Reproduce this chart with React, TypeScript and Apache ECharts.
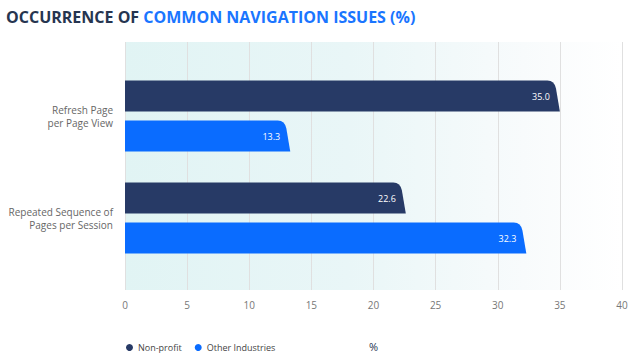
import React, { useEffect, useRef } from "react";
import * as echarts from "echarts";

const categories = ["Refresh Page\nper Page View", "Repeated Sequence of\nPages per Session"];
const nonProfit = [35.0, 22.6];
const otherIndustries = [13.3, 32.3];
const xTicks = { min: 0, max: 40, interval: 5 };
const seriesNames = ["Non-profit", "Other Industries"];
const seriesColors = ["#273a66", "#0a6cff"];

function makeRender(offset: number) {
  return (params: any, api: any) => {
    const cat = api.value(1);
    const val = api.value(0);
    const start = api.coord([0, cat]);
    const end = api.coord([val, cat]);
    const h = 31;
    const cy = start[1] + offset;
    const y0 = cy - h / 2;
    const y1 = cy + h / 2;
    const x0 = start[0];
    const xe = end[0];
    const slant = 4.5;
    const r = 8;
    const d = `M${x0},${y0} L${xe - slant - r},${y0} Q${xe - slant - 1},${y0} ${xe - slant + 0.6},${y0 + r} L${xe},${y1} L${x0},${y1} Z`;
    return {
      type: "group",
      children: [
        {
          type: "path",
          shape: { pathData: d },
          style: { fill: api.visual("color") },
        },
        {
          type: "text",
          style: {
            text: val.toFixed(1),
            x: xe - 10,
            y: cy,
            align: "right",
            verticalAlign: "middle",
            fill: "#ffffff",
            font: "9px 'Open Sans', sans-serif",
          },
        },
      ],
    };
  };
}

export default function App() {
  const ref = useRef<HTMLDivElement>(null);
  useEffect(() => {
    if (!ref.current) return;
    const chart = echarts.init(ref.current, undefined, { renderer: "svg" });
    chart.setOption({
      animation: false,
      backgroundColor: "#ffffff",
      title: {
        left: 1,
        top: 4,
        text: "{a|OCCURRENCE OF }{b|COMMON NAVIGATION ISSUES (%)}",
        textStyle: {
          rich: {
            a: { fontSize: 16, fontWeight: "bold", color: "#263550", fontFamily: "Open Sans" },
            b: { fontSize: 16, fontWeight: "bold", color: "#1a75ff", fontFamily: "Open Sans" },
          },
        },
      },
      legend: {
        left: 121,
        top: 338,
        icon: "circle",
        itemWidth: 7,
        itemHeight: 7,
        itemGap: 13,
        data: seriesNames,
        textStyle: { fontSize: 9, color: "#444", fontFamily: "Open Sans" },
      },
      grid: [
        {
          left: 125,
          width: 497,
          top: 42,
          height: 248,
          show: true,
          borderWidth: 0,
          backgroundColor: new echarts.graphic.LinearGradient(0, 0, 1, 0, [
            { offset: 0, color: "#e1f4f4" },
            { offset: 0.45, color: "#e9f6f7" },
            { offset: 0.8, color: "#f8fbfc" },
            { offset: 1, color: "#ffffff" },
          ]),
        },
        { left: 125, width: 497, top: 65, height: 204 },
      ],
      xAxis: [
        {
          gridIndex: 0,
          type: "value",
          min: xTicks.min,
          max: xTicks.max,
          interval: xTicks.interval,
          axisLine: { show: false },
          axisTick: { show: false },
          splitLine: { show: true, lineStyle: { color: "#e0e0e0", width: 1 } },
          axisLabel: { color: "#777", fontSize: 10, margin: 10, fontFamily: "Open Sans" },
          name: "%",
          nameLocation: "middle",
          nameGap: 51,
          nameTextStyle: { color: "#263550", fontSize: 11, fontFamily: "Open Sans" },
        },
        {
          gridIndex: 1,
          type: "value",
          min: xTicks.min,
          max: xTicks.max,
          show: false,
        },
      ],
      yAxis: [
        { gridIndex: 0, type: "value", show: false },
        {
          gridIndex: 1,
          type: "category",
          inverse: true,
          data: categories,
          axisLine: { show: false },
          axisTick: { show: false },
          axisLabel: {
            color: "#666",
            fontSize: 10,
            lineHeight: 13,
            margin: 12,
            align: "right",
            fontFamily: "Open Sans",
          },
        },
      ],
      series: [
        {
          name: seriesNames[0],
          type: "custom",
          xAxisIndex: 1,
          yAxisIndex: 1,
          color: seriesColors[0],
          renderItem: makeRender(-20),
          encode: { x: 0, y: 1 },
          data: nonProfit.map((v, i) => [v, i]),
        },
        {
          name: seriesNames[1],
          type: "custom",
          xAxisIndex: 1,
          yAxisIndex: 1,
          color: seriesColors[1],
          renderItem: makeRender(20),
          encode: { x: 0, y: 1 },
          data: otherIndustries.map((v, i) => [v, i]),
        },
      ],
    });
    return () => chart.dispose();
  }, []);
  return <div ref={ref} style={{ width: 634, height: 363, position: "absolute", left: 0, top: 0 }} />;
}
